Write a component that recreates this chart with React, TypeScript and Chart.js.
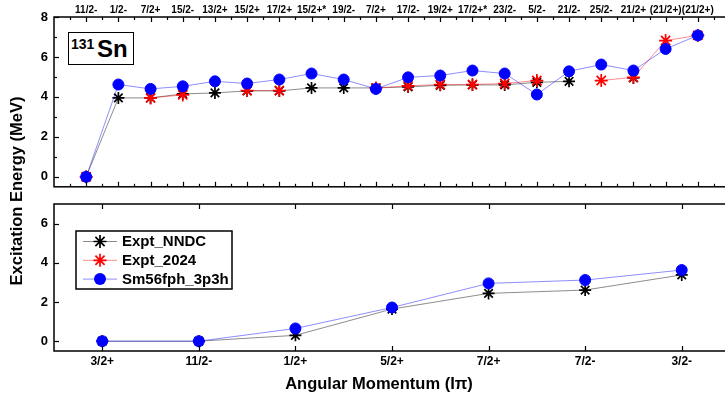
import React, { useEffect, useRef } from 'react';
import { Chart, registerables } from 'chart.js';

Chart.register(...registerables);

const FONT = "'Liberation Sans', Arial, Helvetica, sans-serif";

// ---------------- data ----------------
const topCategories = ['11/2-', '1/2-', '7/2+', '15/2-', '13/2+', '15/2+', '17/2+', '15/2+*', '19/2-', '7/2+', '17/2-', '19/2+', '17/2+*', '23/2-', '5/2-', '21/2-', '25/2-', '21/2+', '(21/2+)', '(21/2+)'];
const topExptNNDC = [0, 3.95, 3.95, 4.15, 4.2, 4.3, 4.3, 4.45, 4.45, 4.45, 4.5, 4.58, 4.6, 4.6, 4.73, 4.78, null, 4.95, null, null];
const topExpt2024 = [0, null, 3.95, 4.1, null, 4.32, 4.32, null, null, 4.45, 4.55, 4.62, 4.62, 4.67, 4.82, null, 4.82, 4.98, 6.82, 7.08];
const topSm56 = [0, 4.62, 4.4, 4.53, 4.78, 4.67, 4.87, 5.17, 4.87, 4.4, 4.98, 5.07, 5.32, 5.17, 4.12, 5.28, 5.62, 5.32, 6.4, 7.08];
const topYTicks = [0, 2, 4, 6, 8];
const topYMinor = [1, 3, 5, 7];

const bottomCategories = ['3/2+', '11/2-', '1/2+', '5/2+', '7/2+', '7/2-', '3/2-'];
const bottomExptNNDC = [0, 0, 0.3, 1.64, 2.44, 2.61, 3.38];
const bottomExpt2024: (number | null)[] = [null, null, null, null, null, null, null];
const bottomSm56 = [0, 0, 0.65, 1.72, 2.95, 3.12, 3.63];
const bottomYTicks = [0, 2, 4, 6];

const seriesLabels = ['Expt_NNDC', 'Expt_2024', 'Sm56fph_3p3h'];

// ---------------- styles ----------------
const seriesStyles = [
  { line: 'rgba(0,0,0,0.45)', point: '#000000', shape: 'star', radius: 6, order: 2 },
  { line: 'rgba(255,0,0,0.45)', point: '#ff0000', shape: 'star', radius: 6.5, order: 1 },
  { line: 'rgba(0,0,255,0.45)', point: '#0000ff', shape: 'circle', radius: 5.5, order: 0 },
];

function makeDataset(k: number, values: (number | null)[]) {
  const s = seriesStyles[k];
  return {
    label: seriesLabels[k],
    data: values.map((v, i) => ({ x: i, y: v })),
    borderColor: s.line,
    borderWidth: 1,
    backgroundColor: s.point,
    pointStyle: s.shape,
    pointRadius: s.radius,
    pointBorderColor: s.point,
    pointBackgroundColor: s.point,
    pointBorderWidth: s.shape === 'star' ? 1.7 : 1,
    order: s.order,
    spanGaps: false,
    tension: 0,
  };
}

function drawStar(ctx: CanvasRenderingContext2D, x: number, y: number, r: number) {
  const d = r * Math.SQRT1_2;
  ctx.beginPath();
  ctx.moveTo(x, y - r); ctx.lineTo(x, y + r);
  ctx.moveTo(x - r, y); ctx.lineTo(x + r, y);
  ctx.moveTo(x - d, y - d); ctx.lineTo(x + d, y + d);
  ctx.moveTo(x - d, y + d); ctx.lineTo(x + d, y - d);
  ctx.stroke();
}

function makeFramePlugin(cfg: { xMajor: number[]; xMinor: number[]; yMajor: number[]; yMinor: number[] }) {
  return {
    id: 'frame',
    afterDraw(chart: any) {
      const { ctx, chartArea: a, scales } = chart;
      const xs = scales.x, ys = scales.y;
      ctx.save();
      ctx.strokeStyle = '#000';
      ctx.lineWidth = 1.5;
      ctx.strokeRect(a.left, a.top, a.right - a.left, a.bottom - a.top);
      ctx.lineWidth = 1.2;
      const seg = (x1: number, y1: number, x2: number, y2: number) => {
        ctx.beginPath(); ctx.moveTo(x1, y1); ctx.lineTo(x2, y2); ctx.stroke();
      };
      const xt = (v: number, len: number) => {
        const p = Math.round(xs.getPixelForValue(v)) + 0.5;
        seg(p, a.bottom, p, a.bottom - len);
        seg(p, a.top, p, a.top + len);
      };
      const yt = (v: number, len: number) => {
        const p = Math.round(ys.getPixelForValue(v)) + 0.5;
        seg(a.left, p, a.left + len, p);
      };
      cfg.xMajor.forEach((v) => xt(v, 5));
      cfg.xMinor.forEach((v) => xt(v, 3));
      cfg.yMajor.forEach((v) => yt(v, 5));
      cfg.yMinor.forEach((v) => yt(v, 3));
      ctx.restore();
    },
  };
}

const legendPlugin = {
  id: 'boxLegend',
  afterDraw(chart: any) {
    const { ctx, chartArea: a } = chart;
    const bx = a.left + 22, by = a.top + 27, bw = 156, bh = 58;
    ctx.save();
    ctx.fillStyle = '#fff';
    ctx.fillRect(bx, by, bw, bh);
    ctx.strokeStyle = '#000';
    ctx.lineWidth = 1.5;
    ctx.strokeRect(bx, by, bw, bh);
    seriesLabels.forEach((label, k) => {
      const s = seriesStyles[k];
      const cy = by + 10.5 + k * 18.8;
      ctx.strokeStyle = s.line;
      ctx.lineWidth = 1;
      ctx.beginPath(); ctx.moveTo(bx + 7, cy); ctx.lineTo(bx + 41, cy); ctx.stroke();
      if (s.shape === 'star') {
        ctx.strokeStyle = s.point;
        ctx.lineWidth = 1.7;
        drawStar(ctx, bx + 24, cy, 6.5);
      } else {
        ctx.fillStyle = s.point;
        ctx.beginPath(); ctx.arc(bx + 24, cy, 6, 0, Math.PI * 2); ctx.fill();
      }
      ctx.fillStyle = '#000';
      ctx.font = `bold 15px ${FONT}`;
      ctx.textBaseline = 'middle';
      ctx.textAlign = 'left';
      ctx.fillText(label, bx + 46, cy + 0.5);
    });
    ctx.restore();
  },
};

const zeroPad = (s: any) => { s.paddingTop = 0; s.paddingBottom = 0; s.paddingLeft = 0; s.paddingRight = 0; };

function topConfig(): any {
  return {
    type: 'line',
    data: {
      datasets: [makeDataset(0, topExptNNDC), makeDataset(1, topExpt2024), makeDataset(2, topSm56)],
    },
    options: {
      animation: false,
      responsive: false,
      maintainAspectRatio: false,
      devicePixelRatio: 1,
      layout: { padding: { left: 0, right: 10, top: 0, bottom: 6 } },
      plugins: { legend: { display: false }, tooltip: { enabled: false } },
      scales: {
        x: {
          type: 'linear', position: 'top', min: -1, max: 20,
          afterBuildTicks: (s: any) => { s.ticks = topCategories.map((_, i) => ({ value: i })); },
          afterFit: (s: any) => { s.height = 17; zeroPad(s); },
          grid: { display: false, drawTicks: false },
          border: { display: false },
          ticks: {
            autoSkip: false, maxRotation: 0, minRotation: 0, padding: 1, color: '#000',
            font: { family: FONT, size: 10, weight: 'bold' },
            callback: (_v: any, i: number) => topCategories[i] ?? '',
          },
        },
        y: {
          type: 'linear', position: 'left', min: -0.5, max: 8,
          afterBuildTicks: (s: any) => { s.ticks = topYTicks.map((v) => ({ value: v })); },
          afterFit: (s: any) => { s.width = 54; zeroPad(s); },
          grid: { display: false, drawTicks: false },
          border: { display: false },
          ticks: { padding: 6, color: '#000', font: { family: FONT, size: 13, weight: 'bold' }, callback: (v: any) => String(v) },
        },
      },
    },
    plugins: [makeFramePlugin({
      xMajor: topCategories.map((_, i) => i),
      xMinor: topCategories.map((_, i) => i - 0.5).concat([topCategories.length - 0.5]),
      yMajor: topYTicks,
      yMinor: topYMinor,
    })],
  };
}

function bottomConfig(): any {
  return {
    type: 'line',
    data: {
      datasets: [makeDataset(0, bottomExptNNDC), makeDataset(1, bottomExpt2024), makeDataset(2, bottomSm56)],
    },
    options: {
      animation: false,
      responsive: false,
      maintainAspectRatio: false,
      devicePixelRatio: 1,
      layout: { padding: { left: 0, right: 10, top: 9, bottom: 0 } },
      plugins: { legend: { display: false }, tooltip: { enabled: false } },
      scales: {
        x: {
          type: 'linear', position: 'bottom', min: -0.5, max: 6.5,
          afterBuildTicks: (s: any) => { s.ticks = bottomCategories.map((_, i) => ({ value: i })); },
          afterFit: (s: any) => { s.height = 44; zeroPad(s); },
          grid: { display: false, drawTicks: false },
          border: { display: false },
          ticks: {
            autoSkip: false, maxRotation: 0, minRotation: 0, padding: 3, color: '#000',
            font: { family: FONT, size: 12, weight: 'bold' },
            callback: (_v: any, i: number) => bottomCategories[i] ?? '',
          },
        },
        y: {
          type: 'linear', position: 'left', min: -0.5, max: 7,
          afterBuildTicks: (s: any) => { s.ticks = bottomYTicks.map((v) => ({ value: v })); },
          afterFit: (s: any) => { s.width = 54; zeroPad(s); },
          grid: { display: false, drawTicks: false },
          border: { display: false },
          ticks: { padding: 6, color: '#000', font: { family: FONT, size: 13, weight: 'bold' }, callback: (v: any) => String(v) },
        },
      },
    },
    plugins: [makeFramePlugin({
      xMajor: bottomCategories.map((_, i) => i),
      xMinor: [],
      yMajor: bottomYTicks,
      yMinor: [],
    }), legendPlugin],
  };
}

export default function App() {
  const topRef = useRef<HTMLCanvasElement>(null);
  const botRef = useRef<HTMLCanvasElement>(null);

  useEffect(() => {
    document.body.style.margin = '0';
    const top = new Chart(topRef.current as HTMLCanvasElement, topConfig());
    const bot = new Chart(botRef.current as HTMLCanvasElement, bottomConfig());
    return () => { top.destroy(); bot.destroy(); };
  }, []);

  return (
    <div style={{ position: 'fixed', left: 0, top: 0, width: 725, height: 395, overflow: 'hidden', background: '#fff', fontFamily: FONT, color: '#000' }}>
      <canvas ref={topRef} width={740} height={195} style={{ position: 'absolute', left: 0, top: 0, width: 740, height: 195 }} />
      <canvas ref={botRef} width={740} height={200} style={{ position: 'absolute', left: 0, top: 195, width: 740, height: 200 }} />
      <div style={{ position: 'absolute', left: 68, top: 32, width: 66, height: 33, boxSizing: 'border-box', border: '1.5px solid #000', background: '#fff' }}>
        <span style={{ position: 'absolute', left: 2, top: 4, fontSize: 14, fontWeight: 'bold', lineHeight: 1, whiteSpace: 'nowrap' }}>131</span>
        <span style={{ position: 'absolute', left: 28, top: 3.5, fontSize: 24, fontWeight: 'bold', lineHeight: 1, whiteSpace: 'nowrap' }}>Sn</span>
      </div>
      <div style={{ position: 'absolute', left: 16 - 150, top: 191 - 10, width: 300, height: 20, lineHeight: '20px', textAlign: 'center', fontSize: 16.5, fontWeight: 'bold', transform: 'rotate(-90deg)', whiteSpace: 'nowrap' }}>
        Excitation Energy (MeV)
      </div>
      <div style={{ position: 'absolute', left: 379 - 150, top: 383 - 10, width: 300, height: 20, lineHeight: '20px', textAlign: 'center', fontSize: 16.5, fontWeight: 'bold', whiteSpace: 'nowrap' }}>
        Angular Momentum (Iπ)
      </div>
    </div>
  );
}
